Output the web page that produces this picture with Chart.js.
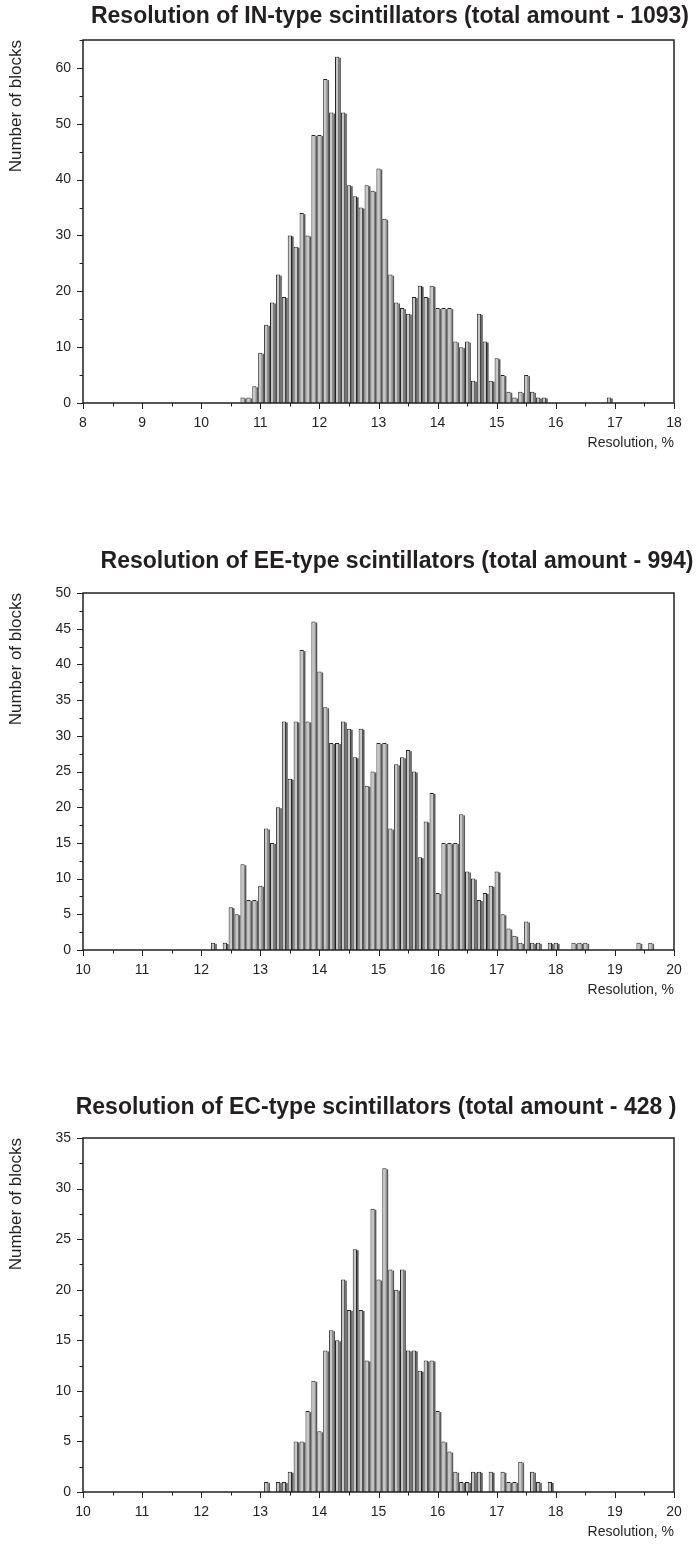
<!DOCTYPE html>
<html>
<head>
<meta charset="utf-8">
<title>Resolution of scintillators</title>
<script src="https://cdn.jsdelivr.net/npm/chart.js@4.4.1/dist/chart.umd.min.js"></script>
<style>
  html, body { margin: 0; padding: 0; background: #fff; }
  body { width: 697px; height: 1551px; position: relative; overflow: hidden; }
  .panel { position: absolute; left: 0; width: 697px; }
</style>
</head>
<body>
<div class="panel" style="top:0;height:460px"><canvas id="chartIN"></canvas></div>
<div class="panel" style="top:520px;height:487px"><canvas id="chartEE"></canvas></div>
<div class="panel" style="top:1060px;height:489px"><canvas id="chartEC"></canvas></div>

<script>
// IN-type blocks, bins of 0.1 %
const inBins = [10.7, 10.8, 10.9, 11.0, 11.1, 11.2, 11.3, 11.4, 11.5, 11.6, 11.7, 11.8, 11.9,
  12.0, 12.1, 12.2, 12.3, 12.4, 12.5, 12.6, 12.7, 12.8, 12.9, 13.0, 13.1, 13.2, 13.3, 13.4,
  13.5, 13.6, 13.7, 13.8, 13.9, 14.0, 14.1, 14.2, 14.3, 14.4, 14.5, 14.6, 14.7, 14.8, 14.9,
  15.0, 15.1, 15.2, 15.3, 15.4, 15.5, 15.6, 15.7, 15.8, 16.9];
const inCounts = [1, 1, 3, 9, 14, 18, 23, 19, 30, 28, 34, 30, 48,
  48, 58, 52, 62, 52, 39, 37, 35, 39, 38, 42, 33, 23, 18, 17,
  16, 19, 21, 19, 21, 17, 17, 17, 11, 10, 11, 4, 16, 11, 4,
  8, 5, 2, 1, 2, 5, 2, 1, 1, 1];

// EE-type blocks
const eeBins = [12.2, 12.4, 12.5, 12.6, 12.7, 12.8, 12.9, 13.0, 13.1, 13.2, 13.3, 13.4, 13.5,
  13.6, 13.7, 13.8, 13.9, 14.0, 14.1, 14.2, 14.3, 14.4, 14.5, 14.6, 14.7, 14.8, 14.9, 15.0,
  15.1, 15.2, 15.3, 15.4, 15.5, 15.6, 15.7, 15.8, 15.9, 16.0, 16.1, 16.2, 16.3, 16.4, 16.5,
  16.6, 16.7, 16.8, 16.9, 17.0, 17.1, 17.2, 17.3, 17.4, 17.5, 17.6, 17.7, 17.9, 18.0, 18.3,
  18.4, 18.5, 19.4, 19.6];
const eeCounts = [1, 1, 6, 5, 12, 7, 7, 9, 17, 15, 20, 32, 24,
  32, 42, 32, 46, 39, 34, 29, 29, 32, 31, 27, 31, 23, 25, 29,
  29, 17, 26, 27, 28, 25, 13, 18, 22, 8, 15, 15, 15, 19, 11,
  10, 7, 8, 9, 11, 5, 3, 2, 1, 4, 1, 1, 1, 1, 1,
  1, 1, 1, 1];

// EC-type blocks
const ecBins = [13.1, 13.3, 13.4, 13.5, 13.6, 13.7, 13.8, 13.9, 14.0, 14.1, 14.2, 14.3, 14.4,
  14.5, 14.6, 14.7, 14.8, 14.9, 15.0, 15.1, 15.2, 15.3, 15.4, 15.5, 15.6, 15.7, 15.8, 15.9,
  16.0, 16.1, 16.2, 16.3, 16.4, 16.5, 16.6, 16.7, 16.9, 17.1, 17.2, 17.3, 17.4, 17.6, 17.7, 17.9];
const ecCounts = [1, 1, 1, 2, 5, 5, 8, 11, 6, 14, 16, 15, 21,
  18, 24, 18, 13, 28, 21, 32, 22, 20, 22, 14, 14, 12, 13, 13,
  8, 5, 4, 2, 1, 1, 2, 2, 2, 2, 1, 1, 3, 2, 1, 1];

// axis ticks
const inXTicks = [8, 9, 10, 11, 12, 13, 14, 15, 16, 17, 18];
const inYTicks = [0, 10, 20, 30, 40, 50, 60];
const eeXTicks = [10, 11, 12, 13, 14, 15, 16, 17, 18, 19, 20];
const eeYTicks = [0, 5, 10, 15, 20, 25, 30, 35, 40, 45, 50];
const ecXTicks = [10, 11, 12, 13, 14, 15, 16, 17, 18, 19, 20];
const ecYTicks = [0, 5, 10, 15, 20, 25, 30, 35];

const BIN = 0.1;
const FONT = "'Liberation Sans', Arial, Helvetica, sans-serif";
const INK = '#231f20';
Chart.defaults.font.family = FONT;
Chart.defaults.color = INK;

// dark side strip filling the gap to the right of every bar
const barShade = {
  id: 'barShade',
  afterDatasetsDraw(chart) {
    const { ctx, scales: { x } } = chart;
    const binPx = x.getPixelForValue(x.min + BIN) - x.getPixelForValue(x.min);
    ctx.save();
    ctx.fillStyle = '#5a5a5a';
    chart.getDatasetMeta(0).data.forEach(bar => {
      const { x: bx, y: by, base, width } = bar.getProps(['x', 'y', 'base', 'width'], true);
      if (base - by < 0.5) return;
      const right = bx + width / 2;
      ctx.fillRect(right, by + 1, binPx - width, base - by - 1);
    });
    ctx.restore();
  }
};

// box around the plot plus outward major/minor ticks on x and y
const frameTicks = {
  id: 'frameTicks',
  afterDraw(chart, args, opts) {
    const { ctx, chartArea: a, scales: { x, y } } = chart;
    const half = (arr) => arr.slice(0, -1).map((v, i) => (v + arr[i + 1]) / 2);
    ctx.save();
    ctx.strokeStyle = INK;
    ctx.lineWidth = 1;
    ctx.beginPath();
    opts.xTicks.forEach(v => {
      const px = Math.round(x.getPixelForValue(v)) + 0.5;
      ctx.moveTo(px, a.bottom); ctx.lineTo(px, a.bottom + 6);
    });
    half(opts.xTicks).forEach(v => {
      const px = Math.round(x.getPixelForValue(v)) + 0.5;
      ctx.moveTo(px, a.bottom); ctx.lineTo(px, a.bottom + 3.5);
    });
    opts.yTicks.forEach(v => {
      const py = Math.round(y.getPixelForValue(v)) + 0.5;
      ctx.moveTo(a.left, py); ctx.lineTo(a.left - 6, py);
    });
    half(opts.yTicks.concat([y.max + (y.max - opts.yTicks[opts.yTicks.length - 1])]))
      .filter(v => v <= y.max)
      .forEach(v => {
        const py = Math.round(y.getPixelForValue(v)) + 0.5;
        ctx.moveTo(a.left, py); ctx.lineTo(a.left - 3.5, py);
      });
    ctx.stroke();
    ctx.lineWidth = 1.5;
    ctx.strokeRect(a.left, a.top, a.right - a.left, a.bottom - a.top);
    ctx.restore();
  }
};

// bold heading over each panel
const panelTitle = {
  id: 'panelTitle',
  afterDraw(chart, args, opts) {
    const ctx = chart.ctx;
    ctx.save();
    ctx.font = 'bold 23px ' + FONT;
    ctx.fillStyle = INK;
    ctx.textAlign = 'center';
    ctx.textBaseline = 'middle';
    ctx.fillText(opts.text, opts.x, opts.y);
    ctx.restore();
  }
};

function makeHistogram(id, bins, counts, xTicks, yTicks, cfg) {
  return new Chart(document.getElementById(id), {
    type: 'bar',
    data: {
      datasets: [{
        data: bins.map((b, i) => ({ x: b, y: counts[i] })),
        backgroundColor: '#c6c6c6',
        borderColor: '#262626',
        borderWidth: 1,
        barPercentage: 0.72,
        categoryPercentage: 1
      }]
    },
    options: {
      responsive: true,
      maintainAspectRatio: false,
      animation: false,
      layout: { padding: { top: cfg.padTop, right: 23, left: 0, bottom: 0 } },
      plugins: {
        legend: { display: false },
        tooltip: { enabled: false },
        panelTitle: { text: cfg.title, x: cfg.titleX, y: cfg.titleY },
        frameTicks: { xTicks, yTicks }
      },
      scales: {
        x: {
          type: 'linear',
          offset: false,
          min: xTicks[0],
          max: xTicks[xTicks.length - 1],
          afterFit: s => { s.height = 57; },
          afterBuildTicks: s => { s.ticks = xTicks.map(v => ({ value: v })); },
          grid: { display: false, drawTicks: false },
          border: { display: false },
          ticks: { padding: 12, autoSkip: false, maxRotation: 0, font: { size: 14 } },
          title: {
            display: true, text: 'Resolution, %', align: 'end',
            font: { size: 14 }, padding: { bottom: 8, top: 0 }
          }
        },
        y: {
          min: 0,
          max: cfg.yMax,
          afterFit: s => { s.width = 83; },
          afterBuildTicks: s => { s.ticks = yTicks.map(v => ({ value: v })); },
          grid: { display: false, drawTicks: false },
          border: { display: false },
          ticks: { padding: 12, font: { size: 14 } },
          title: {
            display: true, text: 'Number of blocks', align: 'end',
            font: { size: 17 }, padding: { top: 6, bottom: 0 }
          }
        }
      }
    },
    plugins: [barShade, frameTicks, panelTitle]
  });
}

makeHistogram('chartIN', inBins, inCounts, inXTicks, inYTicks, {
  padTop: 40, yMax: 65,
  title: 'Resolution of IN-type scintillators (total amount - 1093)', titleX: 390, titleY: 17
});
makeHistogram('chartEE', eeBins, eeCounts, eeXTicks, eeYTicks, {
  padTop: 73, yMax: 50,
  title: 'Resolution of EE-type scintillators (total amount - 994)', titleX: 397, titleY: 42
});
makeHistogram('chartEC', ecBins, ecCounts, ecXTicks, ecYTicks, {
  padTop: 78, yMax: 35,
  title: 'Resolution of EC-type scintillators (total amount - 428 )', titleX: 376, titleY: 48
});
</script>
</body>
</html>
